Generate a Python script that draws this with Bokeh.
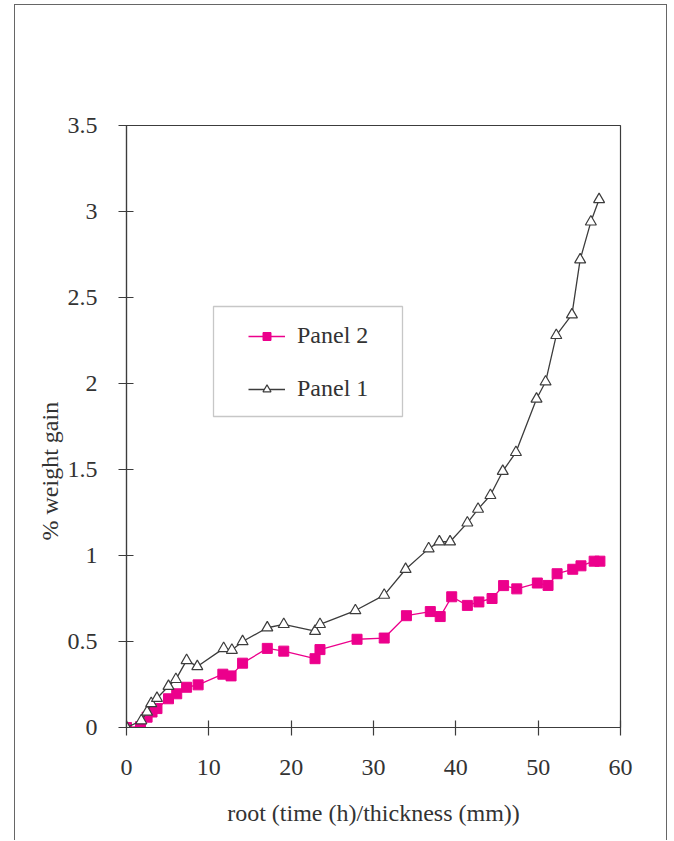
from bokeh.plotting import figure
from bokeh.models import (Range1d, FixedTicker, Legend, LegendItem, BoxAnnotation, Title)
from bokeh.embed import file_html
from bokeh.resources import INLINE

# ---- data ----
p1_x = [0, 1.8, 2.5, 3.0, 3.7, 5.1, 6.0, 7.3, 8.6, 11.8, 12.8, 14.1, 17.1, 19.1,
        22.9, 23.5, 27.8, 31.3, 33.9, 36.7, 38.0, 39.3, 41.4, 42.7, 44.2, 45.7,
        47.3, 49.8, 50.9, 52.2, 54.1, 55.1, 56.4, 57.4]
p1_y = [0, 0.04, 0.09, 0.14, 0.17, 0.24, 0.28, 0.39, 0.355, 0.46, 0.45, 0.50, 0.58, 0.60,
        0.56, 0.60, 0.68, 0.77, 0.92, 1.04, 1.08, 1.08, 1.19, 1.27, 1.35, 1.49,
        1.60, 1.91, 2.01, 2.28, 2.40, 2.72, 2.94, 3.07]

p2_x = [0, 1.7, 2.5, 3.1, 3.7, 5.1, 6.1, 7.3, 8.7, 11.7, 12.7, 14.1, 17.1, 19.1,
        22.9, 23.5, 28.0, 31.3, 34.0, 36.9, 38.1, 39.5, 41.4, 42.8, 44.4, 45.8,
        47.4, 49.9, 51.2, 52.3, 54.2, 55.2, 56.8, 57.5]
p2_y = [0, 0.005, 0.06, 0.09, 0.11, 0.167, 0.196, 0.234, 0.248, 0.31, 0.30, 0.374, 0.46, 0.444,
        0.40, 0.453, 0.513, 0.52, 0.65, 0.674, 0.645, 0.76, 0.71, 0.73, 0.75, 0.825,
        0.806, 0.84, 0.826, 0.894, 0.92, 0.94, 0.967, 0.967]

series_names = ["Panel 2", "Panel 1"]
x_ticks = [0, 10, 20, 30, 40, 50, 60]
y_ticks = [0, 0.5, 1, 1.5, 2, 2.5, 3, 3.5]
y_tick_labels = ["0", "0.5", "1", "1.5", "2", "2.5", "3", "3.5"]
x_label = "root (time (h)/thickness (mm))"
y_label = "% weight gain"

FONT = "Liberation Serif"
FS = "24px"
AX = "#3c3c3c"
MAG = "#EC008C"

p = figure(width=653, height=836, output_backend="svg", toolbar_location=None,
           x_range=Range1d(0, 60), y_range=Range1d(0, 3.5),
           min_border_left=111, min_border_right=48, min_border_top=120,
           min_border_bottom=114)
p.styles = {"margin-left": "14px", "margin-top": "4px",
            "border-left": "1px solid #666666", "border-top": "1px solid #666666",
            "border-right": "1px solid #666666"}
p.grid.visible = False
p.outline_line_color = AX
p.outline_line_width = 1.2
p.background_fill_color = "white"
p.border_fill_color = "white"

for ax in (p.xaxis[0], p.yaxis[0]):
    ax.axis_line_color = AX
    ax.axis_line_width = 1.2
    ax.major_tick_line_color = AX
    ax.major_tick_line_width = 1.2
    ax.major_tick_in = 7
    ax.major_tick_out = 8
    ax.minor_tick_line_color = None
    ax.major_label_text_font = FONT
    ax.major_label_text_font_size = FS
    ax.major_label_text_color = "#333333"
    ax.axis_label_text_font = FONT
    ax.axis_label_text_font_size = FS
    ax.axis_label_text_font_style = "normal"
    ax.axis_label_text_color = "#333333"

p.xaxis.ticker = FixedTicker(ticks=x_ticks)
p.yaxis.ticker = FixedTicker(ticks=y_ticks)
p.yaxis.major_label_overrides = {t: l for t, l in zip(y_ticks, y_tick_labels)}
p.xaxis.axis_label = x_label
p.xaxis.major_label_standoff = 24
p.xaxis.axis_label_standoff = 22
p.yaxis.major_label_standoff = 21

# y-axis title (placed a bit below the frame centre, as in the reference)
ytitle = Title(text=y_label, align="left", offset=187, standoff=4,
               text_font=FONT, text_font_size=FS, text_font_style="normal",
               text_color="#333333")
p.add_layout(ytitle, "left")

# series
l2 = p.line(p2_x, p2_y, line_color=MAG, line_width=1.3)
m2 = p.scatter(p2_x, p2_y, marker="square", size=10, fill_color=MAG, line_color=MAG)
l1 = p.line(p1_x, p1_y, line_color=AX, line_width=1.3)
m1 = p.scatter(p1_x, p1_y, marker="triangle", size=11, fill_color="white",
               line_color=AX, line_width=1.2)

# legend box
p.add_layout(BoxAnnotation(left=197, right=386, top=300, bottom=410,
                           left_units="canvas", right_units="canvas",
                           top_units="canvas", bottom_units="canvas",
                           fill_alpha=0, line_color="#444444", line_width=1.3,
                           level="overlay"))

legend = Legend(items=[LegendItem(label=series_names[0], renderers=[l2, m2]),
                       LegendItem(label=series_names[1], renderers=[l1, m1])],
                location=(122, 325))
legend.padding = 0
legend.margin = 0
legend.spacing = 26
legend.glyph_width = 37
legend.glyph_height = 20
legend.label_height = 20
legend.label_standoff = 12
legend.label_text_font = FONT
legend.label_text_font_size = FS
legend.label_text_color = "#333333"
legend.border_line_color = None
legend.background_fill_alpha = 0
p.add_layout(legend)

open("out.html", "w").write(file_html(p, INLINE))
